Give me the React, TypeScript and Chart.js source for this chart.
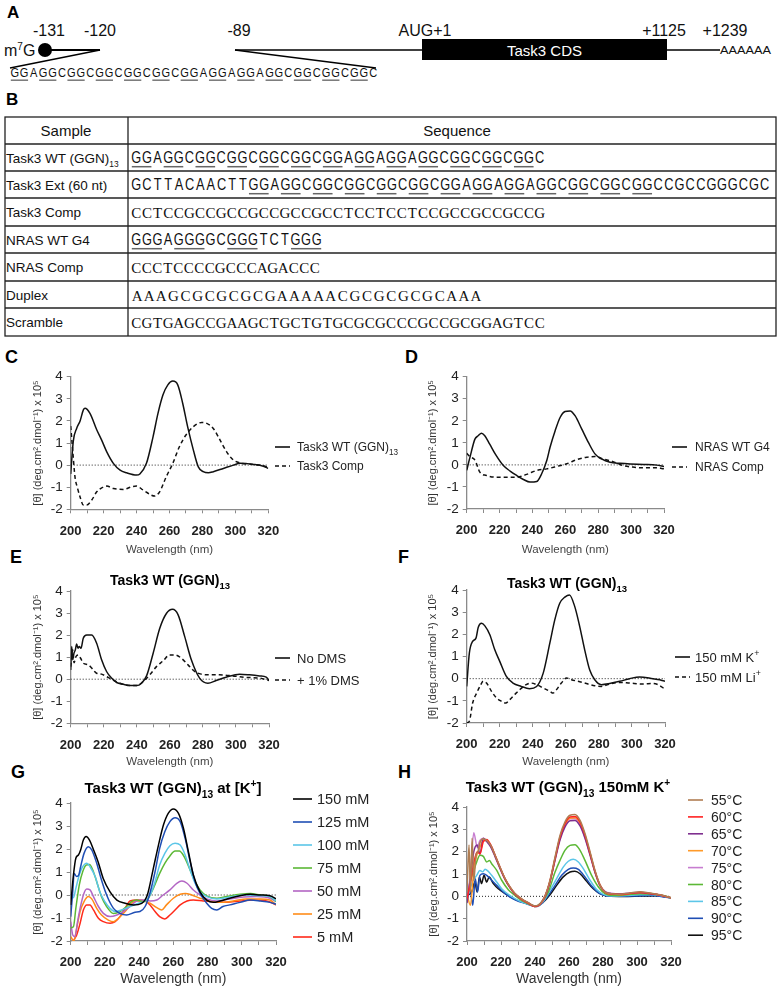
import React, { useEffect, useRef } from 'react';
import { Chart, registerables } from 'chart.js';

Chart.register(...registerables);

const SANS = '"Liberation Sans", Arial, Helvetica, sans-serif';
const SERIF = '"Liberation Serif", "Times New Roman", serif';
Chart.defaults.font.family = SANS;

// ---------------- Panel A / B text data ----------------
const MAP_LABELS = ['-131', '-120', '-89', 'AUG+1', '+1125', '+1239'];
const CDS_LABEL = 'Task3 CDS';
const POLY_A = 'AAAAAA';
const SEQ_WT = 'GGAGGCGGCGGCGGCGGCGGAGGAGGAGGCGGCGGCGGC';
const SEQ_EXT = 'GCTTACAACTT' + SEQ_WT + 'CGCCGGGCGC';
const SEQ_COMP = 'CCTCCGCCGCCGCCGCCGCCTCCTCCTCCGCCGCCGCCG';
const SEQ_NRAS = 'GGGAGGGGCGGGTCTGGG';
const SEQ_NRAS_COMP = 'CCCTCCCCGCCCAGACCC';
const SEQ_DUPLEX = 'AAAGCGCGCGCGAAAAACGCGCGCGCAAA';
const SEQ_SCRAMBLE = 'CGTGAGCCGAAGCTGCTGTGCGCGCCCGCCGCGGAGTCC';
const TABLE_HEAD = ['Sample', 'Sequence'];
const SAMPLE_NAMES = ['Task3 WT (GGN)_{13}', 'Task3 Ext (60 nt)', 'Task3 Comp', 'NRAS WT G4', 'NRAS Comp', 'Duplex', 'Scramble'];
const SAMPLE_SEQS = [SEQ_WT, SEQ_EXT, SEQ_COMP, SEQ_NRAS, SEQ_NRAS_COMP, SEQ_DUPLEX, SEQ_SCRAMBLE];
const SEQ_SERIF = [false, false, true, false, true, true, true];
const UL_WT: number[][] = Array.from({ length: 13 }, (_, i) => [3 * i, 3 * i + 2]);
const UL_EXT: number[][] = Array.from({ length: 13 }, (_, i) => [11 + 3 * i, 11 + 3 * i + 2]);
const UL_NRAS: number[][] = [[0, 3], [4, 7], [9, 12], [15, 18]];
const SAMPLE_UL: number[][][] = [UL_WT, UL_EXT, [], UL_NRAS, [], [], []];

// ---------------- CD spectra data ----------------
const C_WT_NM = [200, 201.6, 203.6, 205.7, 207.7, 208.7, 211.7, 215.8, 218.8, 221.9, 225.9, 230, 234, 240, 242, 246, 250, 253, 256, 259, 262, 265, 268, 271, 274.5, 277.5, 280.5, 283.6, 286.6, 292.7, 298.8, 302.8, 311, 317, 320];
const C_WT_VAL = [-0.4, 1.1, 1.66, 2.0, 2.5, 2.57, 2.34, 1.6, 1.13, 0.6, 0.08, -0.23, -0.35, -0.45, -0.4, 0.08, 1.28, 2.34, 3.17, 3.63, 3.8, 3.63, 2.8, 1.74, 0.68, -0.08, -0.3, -0.35, -0.3, -0.15, 0, 0.08, 0.03, -0.05, -0.15];
const C_COMP_NM = [200, 201.2, 202.6, 204, 205.7, 207.7, 209.7, 212.8, 215.8, 218.8, 221.9, 226, 232, 237, 240, 244, 249, 251, 254, 258, 262, 266, 270, 274.5, 279.6, 282.6, 286.6, 290.7, 294.7, 298.8, 302.8, 311, 317, 320];
const C_COMP_VAL = [1.77, 0.68, -0.53, -1.0, -1.44, -1.81, -1.81, -1.58, -1.21, -1.03, -0.95, -1.06, -1.1, -0.98, -0.95, -1.13, -1.36, -1.4, -1.21, -0.53, 0.08, 0.83, 1.36, 1.74, 1.93, 1.89, 1.66, 1.13, 0.6, 0.23, 0.1, 0.03, -0.03, -0.12];

const D_WT_NM = [200, 202, 205, 207, 209, 211, 214, 218, 222.3, 226.4, 230.4, 234.5, 238.5, 242.6, 245.6, 248.7, 250.7, 253.8, 256.8, 259.8, 262.9, 266, 270, 274, 278, 282, 287.2, 293.3, 299.4, 307.5, 315.6, 320];
const D_WT_VAL = [-0.25, 0.35, 1.17, 1.32, 1.44, 1.32, 0.94, 0.42, -0.03, -0.28, -0.48, -0.66, -0.78, -0.75, -0.4, 0.2, 0.8, 1.55, 2.15, 2.42, 2.45, 2.22, 1.62, 1.02, 0.5, 0.27, 0.12, 0.07, 0.04, 0.02, -0.01, -0.07];
const D_COMP_NM = [200, 202, 205, 208, 212, 218, 224, 230, 236.5, 242.6, 248.7, 254.8, 260.9, 267, 273, 278, 283, 289, 295, 301, 307.5, 315.6, 320];
const D_COMP_VAL = [0.53, 0.37, 0.22, -0.33, -0.48, -0.56, -0.56, -0.56, -0.43, -0.25, -0.18, -0.07, 0.05, 0.24, 0.35, 0.38, 0.27, 0.15, -0.03, -0.1, -0.13, -0.13, -0.18];

const E_NODMS_NM = [200, 200.6, 201.2, 202, 202.8, 203.6, 204.4, 205.2, 206.2, 207.6, 209.7, 212.7, 215.7, 218.7, 221.7, 224.7, 227.8, 231.8, 235.8, 239.8, 242.9, 245.9, 249.9, 253.9, 258, 261.6, 265, 269, 273, 278, 283, 288, 294, 302.2, 308.2, 314.3, 318.3, 320];
const E_NODMS_VAL = [0.42, 1.48, 0.88, 1.18, 1.33, 1.6, 1.4, 1.48, 1.4, 1.86, 2.0, 2.0, 1.63, 0.88, 0.35, 0.05, -0.15, -0.23, -0.29, -0.29, -0.18, 0.15, 1.18, 2.31, 2.99, 3.17, 2.92, 1.93, 0.88, 0.05, -0.18, -0.06, 0.09, 0.23, 0.2, 0.15, 0.09, -0.06];
const E_DMS_NM = [200, 201.2, 202, 203.2, 204.6, 206, 207.6, 210.7, 213.7, 215.7, 218.7, 221.7, 224.7, 228.8, 233.8, 239.8, 243.9, 247.9, 251.9, 255.9, 259.9, 263, 267, 271, 275, 279, 284, 290, 298, 306.2, 314.3, 320];
const E_DMS_VAL = [0.57, 1.33, 0.75, 1.03, 1.1, 0.95, 0.73, 0.65, 0.42, 0.27, 0.23, 0.12, 0, -0.15, -0.26, -0.29, -0.1, 0.2, 0.57, 0.83, 1.1, 1.1, 0.95, 0.65, 0.35, 0.23, 0.2, 0.2, 0.15, 0.08, 0.05, -0.06];

const F_K_NM = [200, 201.6, 203.6, 205.6, 207, 209, 211, 214, 217, 220, 224, 228, 233, 238, 242.3, 246.3, 250.3, 253.3, 256.3, 259.4, 262.2, 265.4, 268.4, 271.4, 274.4, 277.5, 281.5, 286.5, 292.6, 298.6, 304.6, 312.7, 316.8, 320];
const F_K_VAL = [-0.35, 1.15, 1.68, 1.83, 2.32, 2.5, 2.38, 1.98, 1.3, 0.78, 0.1, -0.2, -0.35, -0.45, -0.35, 0.25, 1.6, 2.65, 3.4, 3.68, 3.78, 3.25, 2.35, 1.3, 0.4, -0.05, -0.27, -0.22, -0.12, 0, 0.08, 0, -0.05, -0.12];
const F_LI_NM = [200, 201.6, 203.6, 206, 208, 210, 212, 215, 218, 221, 223.6, 226, 229, 232, 236, 239, 242.3, 246.3, 250.3, 252.3, 254.3, 257.3, 260.4, 263.4, 267.4, 272.4, 277.5, 281.5, 286.5, 292.6, 298.6, 306.7, 312.7, 315.7, 320];
const F_LI_VAL = [-2.0, -1.92, -1.1, -0.65, -0.35, -0.12, -0.2, -0.57, -0.87, -1.02, -1.1, -0.95, -0.72, -0.5, -0.27, -0.2, -0.27, -0.42, -0.57, -0.65, -0.5, -0.2, 0.03, -0.05, -0.12, -0.22, -0.32, -0.35, -0.24, -0.17, -0.2, -0.24, -0.22, -0.27, -0.47];

const G_LABELS = ['150 mM', '125 mM', '100 mM', '75 mM', '50 mM', '25 mM', '5 mM'];
const G_COLORS = ['#000000', '#1f4eb4', '#5cc6e8', '#5cb836', '#b366c4', '#ff8c1a', '#ff2a1a'];
const G150_NM = [200, 201.6, 203, 204.5, 205.8, 207.4, 209, 211, 213, 216, 219, 223, 227, 231.8, 236.6, 241.5, 244.8, 248.3, 251.3, 254.2, 257, 260, 263, 265.9, 268.8, 271.7, 275.6, 279.5, 283.4, 287.3, 293, 299, 305, 310.8, 316.5, 320];
const G150_VAL = [-0.43, 0.87, 1.6, 1.74, 1.96, 2.39, 2.54, 2.39, 2.03, 1.45, 0.72, 0.14, -0.22, -0.36, -0.43, -0.36, 0, 1.16, 2.17, 3.04, 3.55, 3.74, 3.55, 2.9, 1.88, 0.87, 0.14, -0.22, -0.32, -0.26, -0.14, -0.03, 0.03, 0, -0.03, -0.17];
const G125_NM = [200, 201.2, 202, 203.5, 204.7, 205.8, 207.8, 210.3, 212.3, 215.2, 218, 221, 225, 228.8, 232.7, 237.6, 240.5, 243.5, 246, 249.3, 252, 255, 258, 261, 264, 266.9, 269.8, 272.7, 275.6, 279.5, 282.4, 285.4, 289, 293, 299, 305, 310.8, 316.5, 320];
const G125_VAL = [-0.94, 0.14, 0.94, 0.8, 0.87, 1.23, 1.81, 2.1, 1.96, 1.38, 0.65, 0, -0.58, -0.8, -0.87, -0.75, -0.72, -0.5, 0, 1.01, 2.03, 2.75, 3.19, 3.36, 3.19, 2.46, 1.45, 0.58, 0.07, -0.36, -0.58, -0.65, -0.5, -0.43, -0.32, -0.22, -0.26, -0.32, -0.4];
const G100_NM = [200, 201.6, 203, 205, 207, 209.4, 211.3, 214.3, 217, 220, 223, 226, 229.8, 234.7, 239.6, 243.5, 246.4, 249.3, 252, 255, 258, 261, 264, 266.9, 269.8, 272.7, 275.6, 279.5, 285.4, 291, 297, 302.8, 310.8, 316.5, 320];
const G100_VAL = [0, -0.12, 0.29, 0.87, 1.23, 1.38, 1.23, 0.8, 0.14, -0.29, -0.58, -0.72, -0.65, -0.5, -0.36, -0.26, 0, 0.58, 1.3, 1.81, 2.14, 2.25, 2.17, 1.74, 1.09, 0.51, 0.14, -0.07, -0.17, -0.12, -0.03, 0, -0.03, -0.07, -0.26];
const G75_NM = [200, 201.6, 203, 205, 207, 209, 211, 212.9, 215.2, 218, 221, 225, 228.8, 232.7, 235.6, 238.6, 242.5, 245.4, 248.3, 252, 255, 258, 261, 263.5, 266.3, 269.8, 272.7, 275.6, 279.5, 285.4, 291, 299, 305, 310.8, 316.5, 320];
const G75_VAL = [-1.42, -1.38, -0.58, 0.43, 1.01, 1.3, 1.33, 1.09, 0.58, -0.07, -0.5, -0.8, -0.72, -0.5, -0.29, -0.22, -0.29, -0.14, 0.29, 0.94, 1.38, 1.7, 1.91, 1.91, 1.67, 1.09, 0.58, 0.22, -0.04, -0.14, -0.07, 0.03, 0.06, 0, -0.07, -0.29];
const G50_NM = [200, 201.2, 202.5, 204, 205.5, 207.4, 209.4, 211.3, 213.3, 216.2, 219.1, 223, 227, 230.8, 234.7, 238.6, 242.5, 246.4, 250.3, 254, 258, 262, 265, 268, 271.7, 275.6, 279.5, 285.4, 293, 301, 308.8, 316.5, 320];
const G50_VAL = [-1.16, -1.74, -1.81, -1.16, -0.58, 0, 0.26, 0.22, -0.07, -0.5, -0.8, -0.94, -0.87, -0.72, -0.5, -0.26, -0.22, -0.26, -0.22, 0, 0.22, 0.51, 0.61, 0.51, 0.22, 0, -0.17, -0.26, -0.17, -0.09, -0.07, -0.14, -0.29];
const G25_NM = [200, 201.9, 203.5, 205.5, 207.8, 210.3, 212.3, 215.2, 218, 222, 225, 227.9, 231.8, 235.6, 238.6, 242.5, 246.4, 250.3, 253.2, 256, 260, 264, 267, 270.8, 275.6, 281.5, 287.3, 295, 302.8, 310.8, 316.5, 320];
const G25_VAL = [-1.81, -2.0, -1.45, -0.72, -0.29, -0.07, -0.17, -0.58, -0.87, -1.09, -1.16, -1.01, -0.72, -0.36, -0.26, -0.26, -0.36, -0.55, -0.65, -0.43, -0.14, 0.03, 0.07, 0, -0.14, -0.26, -0.32, -0.26, -0.17, -0.17, -0.22, -0.43];
const G5_NM = [200.5, 201.6, 203.5, 205.5, 207.4, 209.4, 211.3, 213.3, 216.2, 219.1, 223, 226, 228.8, 231.8, 234.7, 238.6, 243.5, 246.4, 249.3, 252, 255, 258, 261, 264, 268, 271.7, 277.5, 283.4, 291, 299, 306.8, 314.6, 320];
const G5_VAL = [-2.3, -2.0, -1.74, -1.23, -0.65, -0.43, -0.43, -0.65, -1.01, -1.16, -1.23, -1.16, -0.94, -0.58, -0.26, -0.22, -0.26, -0.43, -0.72, -0.94, -1.04, -0.87, -0.65, -0.43, -0.26, -0.22, -0.26, -0.29, -0.32, -0.26, -0.22, -0.26, -0.43];

const H_LABELS = ['55°C', '60°C', '65°C', '70°C', '75°C', '80°C', '85°C', '90°C', '95°C'];
const H_COLORS = ['#b07d52', '#ff2222', '#7f2f8f', '#ff9a2a', '#c77dd0', '#5cb836', '#5cc6e8', '#1f4eb4', '#111111'];
const H55_NM = [200, 201.2, 202, 203, 204, 205.3, 206.5, 207.6, 209.6, 211.6, 214, 216.5, 219.4, 222.4, 225.3, 228, 232, 236, 240, 243, 246, 248.8, 251.8, 254.7, 257.6, 260.6, 263.5, 266.5, 269.4, 272.4, 275.3, 278.2, 281.2, 285, 290, 295.9, 301.8, 307.6, 313.5, 320];
const H55_VAL = [0.2, 2.3, 0.2, 2.6, 0.7, 1.84, 2.0, 2.4, 2.58, 2.5, 2.28, 1.84, 1.31, 0.79, 0.42, 0.15, -0.1, -0.28, -0.43, -0.33, 0.04, 0.72, 1.76, 2.73, 3.33, 3.63, 3.66, 3.4, 2.81, 1.99, 1.16, 0.52, 0.19, 0.12, 0.09, 0.15, 0.2, 0.15, 0.07, -0.07];
const H_HI_NM = [200, 202, 204, 206, 207.6, 209.6, 211.6, 214, 216.5, 219.4, 222.4, 225.3, 228, 232, 236, 240, 243, 246, 248.8, 251.8, 254.7, 257.6, 260.6, 263.5, 266.5, 269.4, 272.4, 275.3, 278.2, 281.2, 285, 290, 295.9, 301.8, 307.6, 313.5, 320];
const H60_VAL = [-0.1, 0.6, 1.5, 2.0, 1.9, 2.45, 2.55, 2.3, 1.85, 1.3, 0.78, 0.4, 0.13, -0.12, -0.3, -0.45, -0.35, 0.02, 0.68, 1.7, 2.65, 3.25, 3.55, 3.57, 3.32, 2.74, 1.93, 1.12, 0.5, 0.18, 0.1, 0.08, 0.13, 0.17, 0.13, 0.06, -0.07];
const H65_VAL = [-0.3, 0.8, 2.0, 2.3, 1.9, 2.6, 2.45, 2.2, 1.78, 1.25, 0.75, 0.38, 0.12, -0.12, -0.3, -0.45, -0.35, 0.0, 0.64, 1.62, 2.52, 3.1, 3.38, 3.4, 3.15, 2.6, 1.84, 1.07, 0.48, 0.2, 0.12, 0.1, 0.14, 0.17, 0.12, 0.06, -0.07];
const H70_VAL = [0.1, -0.4, 1.2, 1.9, 2.2, 2.5, 2.5, 2.25, 1.82, 1.28, 0.77, 0.4, 0.13, -0.12, -0.3, -0.45, -0.35, 0.02, 0.66, 1.66, 2.6, 3.2, 3.5, 3.52, 3.28, 2.7, 1.9, 1.1, 0.5, 0.19, 0.1, 0.08, 0.13, 0.17, 0.13, 0.06, -0.07];
const H75_VAL = [-0.2, 1.0, 2.85, 2.2, 2.5, 2.6, 2.5, 2.28, 1.83, 1.3, 0.78, 0.41, 0.14, -0.11, -0.29, -0.45, -0.34, 0.03, 0.67, 1.68, 2.6, 3.2, 3.47, 3.47, 3.22, 2.65, 1.88, 1.1, 0.52, 0.22, 0.14, 0.11, 0.15, 0.18, 0.13, 0.06, -0.07];
const H80_NM = [200, 201.8, 203.7, 205.7, 207.6, 209.6, 211.6, 213.2, 214.5, 217.5, 220.4, 224.3, 228.2, 232, 236, 240, 243.9, 247.8, 251.8, 254.7, 257.6, 260.6, 263.5, 266.5, 269.4, 273.3, 277.3, 281.2, 286, 294, 301.8, 309.6, 315.5, 320];
const H80_VAL = [0.05, 0.64, 1.09, 1.54, 1.84, 1.79, 1.54, 1.6, 1.46, 1.16, 0.72, 0.3, 0.04, -0.18, -0.33, -0.45, -0.25, 0.19, 1.09, 1.61, 2.06, 2.28, 2.31, 2.06, 1.61, 0.94, 0.42, 0.12, 0.04, 0.07, 0.12, 0.09, 0.04, -0.07];
const H85_NM = [200, 201.8, 203.7, 205.7, 207.6, 209.2, 210.6, 212.5, 214.5, 217.5, 220.4, 224.3, 228.2, 233, 238, 241, 245, 248.8, 252.7, 256.6, 259.6, 262.5, 265.5, 268.4, 272.4, 276.3, 280.2, 286, 294, 301.8, 309.6, 320];
const H85_VAL = [-0.1, 0.34, 0.72, 0.94, 1.16, 1.1, 1.21, 1.12, 0.94, 0.64, 0.34, 0.09, -0.1, -0.28, -0.4, -0.45, -0.22, 0.27, 0.79, 1.31, 1.57, 1.66, 1.54, 1.24, 0.72, 0.3, 0.09, 0.01, 0.04, 0.07, 0.07, -0.07];
const H90_NM = [200, 201.8, 203.4, 204.8, 206.2, 207.6, 209.6, 211.6, 214.5, 217.5, 221.4, 225.3, 230.2, 235, 240, 243.9, 247.8, 251.8, 255.7, 259.6, 262.5, 265.5, 269.4, 273.3, 277.3, 281.2, 288, 297.8, 307.6, 320];
const H90_VAL = [-0.25, 0.34, -0.4, 0.8, 0.2, 0.94, 1.01, 0.94, 0.72, 0.49, 0.19, -0.03, -0.22, -0.33, -0.45, -0.33, 0.04, 0.49, 0.94, 1.21, 1.27, 1.21, 0.87, 0.46, 0.16, 0.04, 0, 0.01, 0.04, -0.07];
const H95_NM = [200, 202.7, 204.6, 206, 207.3, 208.6, 210, 211.6, 213, 215.5, 218.4, 222.4, 227.3, 232, 237, 241, 245, 248.8, 252.7, 256.6, 260.6, 263.5, 266.5, 270.4, 274.3, 278.2, 283, 292, 301.8, 311.6, 320];
const H95_VAL = [0.04, 0.19, 0.64, 0.19, 0.87, 0.57, 0.94, 0.64, 0.87, 0.57, 0.34, 0.12, -0.1, -0.25, -0.37, -0.45, -0.25, 0.07, 0.49, 0.87, 1.09, 1.12, 1.01, 0.67, 0.34, 0.12, 0.01, -0.01, 0.01, 0.03, -0.07];

const Y_TITLE = '[θ] (deg.cm².dmol⁻¹) x 10⁵';
const X_TITLE = 'Wavelength (nm)';

// ---------------- helpers ----------------
type Seg = { t: string; sub?: boolean; sup?: boolean };
function parseRich(s: string): Seg[] {
  const out: Seg[] = [];
  const re = /([_^])\{([^}]*)\}/g;
  let last = 0;
  let m: RegExpExecArray | null;
  while ((m = re.exec(s))) {
    if (m.index > last) out.push({ t: s.slice(last, m.index) });
    out.push({ t: m[2], sub: m[1] === '_', sup: m[1] === '^' });
    last = re.lastIndex;
  }
  if (last < s.length) out.push({ t: s.slice(last) });
  return out;
}

function drawRich(ctx: CanvasRenderingContext2D, text: string, x: number, yc: number, size: number, weight: string, align: string, color: string) {
  const segs = parseRich(text);
  const fontFor = (sg: Seg) => `${weight} ${sg.sub || sg.sup ? size * 0.68 : size}px ${SANS}`;
  let total = 0;
  for (const sg of segs) { ctx.font = fontFor(sg); total += ctx.measureText(sg.t).width; }
  let cx = align === 'center' ? x - total / 2 : x;
  const base = yc + size * 0.36;
  ctx.textBaseline = 'alphabetic';
  ctx.textAlign = 'left';
  ctx.fillStyle = color;
  for (const sg of segs) {
    ctx.font = fontFor(sg);
    const dy = sg.sub ? size * 0.3 : sg.sup ? -size * 0.42 : 0;
    ctx.fillText(sg.t, cx, base + dy);
    cx += ctx.measureText(sg.t).width;
  }
}

type Box = { left: number; top: number; width: number; height: number };
type Plot = { l: number; t: number; r: number; b: number };
type Series = { label: string; nm: number[]; val: number[]; color: string; dash?: number[] };
interface PanelCfg {
  box: Box; plot: Plot; yTitleX: number; xTitleSize: number; xTitleColor: string;
  title?: { text: string; x: number; y: number; size: number };
  legend: { x0: number; x1: number; tx: number; y0: number; dy: number; size: number };
  series: Series[];
}

function makeDecor(cfg: PanelCfg) {
  return {
    id: 'decor',
    beforeDatasetsDraw(chart: any) {
      const { ctx, chartArea: a, scales } = chart;
      const y0 = scales.y.getPixelForValue(0);
      ctx.save();
      ctx.strokeStyle = '#222';
      ctx.lineWidth = 1;
      ctx.setLineDash([1, 2]);
      ctx.beginPath();
      ctx.moveTo(a.left, y0);
      ctx.lineTo(a.right, y0);
      ctx.stroke();
      ctx.restore();
    },
    afterDraw(chart: any) {
      const ctx: CanvasRenderingContext2D = chart.ctx;
      const ox = cfg.box.left;
      const oy = cfg.box.top;
      ctx.save();
      if (cfg.title) drawRich(ctx, cfg.title.text, cfg.title.x - ox, cfg.title.y - oy, cfg.title.size, 'bold', 'center', '#000');
      const L = cfg.legend;
      chart.data.datasets.forEach((ds: any, i: number) => {
        const y = L.y0 + i * L.dy - oy;
        ctx.save();
        ctx.strokeStyle = ds.borderColor;
        ctx.lineWidth = 1.6;
        ctx.setLineDash(ds.borderDash || []);
        ctx.beginPath();
        ctx.moveTo(L.x0 - ox, y);
        ctx.lineTo(L.x1 - ox, y);
        ctx.stroke();
        ctx.restore();
        drawRich(ctx, ds.label, L.tx - ox, y, L.size, 'normal', 'left', '#222');
      });
      ctx.restore();
    },
  };
}

function CDChart({ cfg }: { cfg: PanelCfg }) {
  const ref = useRef<HTMLCanvasElement>(null);
  useEffect(() => {
    const { box, plot } = cfg;
    const axisColor = '#8a8a8a';
    const chart = new Chart(ref.current as HTMLCanvasElement, {
      type: 'line',
      data: {
        datasets: cfg.series.map((s) => ({
          label: s.label,
          data: s.nm.map((x, i) => ({ x, y: s.val[i] })),
          borderColor: s.color,
          borderDash: s.dash || [],
          borderWidth: 1.5,
          pointRadius: 0,
          fill: false,
          cubicInterpolationMode: 'monotone',
        })) as any,
      },
      options: {
        responsive: false,
        animation: false,
        layout: { padding: { left: 0, top: plot.t - box.top, right: box.left + box.width - plot.r, bottom: 0 } },
        plugins: { legend: { display: false }, tooltip: { enabled: false } },
        scales: {
          x: {
            type: 'linear', min: 200, max: 320,
            afterFit: (s: any) => { s.height = box.top + box.height - plot.b; },
            ticks: {
              stepSize: 10, autoSkip: false, maxRotation: 0, padding: 10, color: '#222',
              font: { size: 13, weight: 'bold' },
              callback: (v: any) => (Number(v) % 20 === 0 ? String(v) : ''),
            },
            grid: { display: true, drawOnChartArea: false, drawTicks: true, tickLength: 4, tickColor: axisColor },
            border: { display: true, color: axisColor, width: 1.3 },
            title: { display: true, text: X_TITLE, color: cfg.xTitleColor, font: { size: cfg.xTitleSize }, padding: 0 },
          },
          y: {
            type: 'linear', min: -2, max: 4,
            afterFit: (s: any) => { s.width = plot.l - box.left; },
            ticks: { stepSize: 1, padding: 4, color: '#222', font: { size: 13.5 } },
            grid: { display: true, drawOnChartArea: false, drawTicks: true, tickLength: 4, tickColor: axisColor },
            border: { display: true, color: axisColor, width: 1.3 },
            title: { display: true, text: Y_TITLE, color: '#333', font: { size: 11 }, padding: { top: cfg.yTitleX - box.left - 6.6, bottom: 0 } },
          },
        },
      } as any,
      plugins: [makeDecor(cfg)],
    });
    return () => chart.destroy();
  }, []);
  const { box } = cfg;
  return (
    <canvas ref={ref} width={box.width} height={box.height}
      style={{ position: 'absolute', left: box.left, top: box.top, width: box.width, height: box.height }} />
  );
}

// ---------------- panel configs ----------------
const PANELS: PanelCfg[] = [
  {
    box: { left: 0, top: 360, width: 400, height: 197 }, plot: { l: 70.7, t: 376.7, r: 268.3, b: 509.3 },
    yTitleX: 38, xTitleSize: 11.5, xTitleColor: '#444',
    legend: { x0: 275, x1: 290, tx: 297, y0: 447, dy: 19, size: 12 },
    series: [
      { label: 'Task3 WT (GGN)_{13}', nm: C_WT_NM, val: C_WT_VAL, color: '#111' },
      { label: 'Task3 Comp', nm: C_COMP_NM, val: C_COMP_VAL, color: '#111', dash: [4, 3] },
    ],
  },
  {
    box: { left: 390, top: 360, width: 391, height: 197 }, plot: { l: 466.7, t: 376.7, r: 664, b: 509 },
    yTitleX: 433, xTitleSize: 11.5, xTitleColor: '#444',
    legend: { x0: 672, x1: 687, tx: 695, y0: 447, dy: 20, size: 12 },
    series: [
      { label: 'NRAS WT G4', nm: D_WT_NM, val: D_WT_VAL, color: '#111' },
      { label: 'NRAS Comp', nm: D_COMP_NM, val: D_COMP_VAL, color: '#111', dash: [4, 3] },
    ],
  },
  {
    box: { left: 0, top: 568, width: 400, height: 201 }, plot: { l: 70.7, t: 591, r: 269, b: 723.3 },
    yTitleX: 38, xTitleSize: 11.5, xTitleColor: '#444',
    title: { text: 'Task3 WT (GGN)_{13}', x: 170, y: 580, size: 14 },
    legend: { x0: 275, x1: 290, tx: 297, y0: 658, dy: 22, size: 13 },
    series: [
      { label: 'No DMS', nm: E_NODMS_NM, val: E_NODMS_VAL, color: '#111' },
      { label: '+ 1% DMS', nm: E_DMS_NM, val: E_DMS_VAL, color: '#111', dash: [4, 3] },
    ],
  },
  {
    box: { left: 390, top: 568, width: 391, height: 201 }, plot: { l: 466.7, t: 590, r: 665, b: 723 },
    yTitleX: 433, xTitleSize: 11.5, xTitleColor: '#444',
    title: { text: 'Task3 WT (GGN)_{13}', x: 567, y: 583, size: 14 },
    legend: { x0: 675, x1: 690, tx: 695, y0: 657, dy: 20, size: 13 },
    series: [
      { label: '150 mM K^{+}', nm: F_K_NM, val: F_K_VAL, color: '#111' },
      { label: '150 mM Li^{+}', nm: F_LI_NM, val: F_LI_VAL, color: '#111', dash: [4, 3] },
    ],
  },
  {
    box: { left: 0, top: 778, width: 400, height: 210 }, plot: { l: 70.7, t: 803, r: 276, b: 941 },
    yTitleX: 38, xTitleSize: 14, xTitleColor: '#333',
    title: { text: 'Task3 WT (GGN)_{13} at [K^{+}]', x: 173, y: 788, size: 15 },
    legend: { x0: 293, x1: 312, tx: 317, y0: 799, dy: 23, size: 14.5 },
    series: [
      { label: G_LABELS[0], nm: G150_NM, val: G150_VAL, color: G_COLORS[0] },
      { label: G_LABELS[1], nm: G125_NM, val: G125_VAL, color: G_COLORS[1] },
      { label: G_LABELS[2], nm: G100_NM, val: G100_VAL, color: G_COLORS[2] },
      { label: G_LABELS[3], nm: G75_NM, val: G75_VAL, color: G_COLORS[3] },
      { label: G_LABELS[4], nm: G50_NM, val: G50_VAL, color: G_COLORS[4] },
      { label: G_LABELS[5], nm: G25_NM, val: G25_VAL, color: G_COLORS[5] },
      { label: G_LABELS[6], nm: G5_NM, val: G5_VAL, color: G_COLORS[6] },
    ],
  },
  {
    box: { left: 390, top: 778, width: 391, height: 210 }, plot: { l: 467, t: 807, r: 671, b: 941 },
    yTitleX: 434, xTitleSize: 14, xTitleColor: '#333',
    title: { text: 'Task3 WT (GGN)_{13} 150mM K^{+}', x: 568, y: 787, size: 15 },
    legend: { x0: 688, x1: 703, tx: 711, y0: 800, dy: 16.9, size: 14 },
    series: [
      { label: H_LABELS[0], nm: H55_NM, val: H55_VAL, color: H_COLORS[0] },
      { label: H_LABELS[1], nm: H_HI_NM, val: H60_VAL, color: H_COLORS[1] },
      { label: H_LABELS[2], nm: H_HI_NM, val: H65_VAL, color: H_COLORS[2] },
      { label: H_LABELS[3], nm: H_HI_NM, val: H70_VAL, color: H_COLORS[3] },
      { label: H_LABELS[4], nm: H_HI_NM, val: H75_VAL, color: H_COLORS[4] },
      { label: H_LABELS[5], nm: H80_NM, val: H80_VAL, color: H_COLORS[5] },
      { label: H_LABELS[6], nm: H85_NM, val: H85_VAL, color: H_COLORS[6] },
      { label: H_LABELS[7], nm: H90_NM, val: H90_VAL, color: H_COLORS[7] },
      { label: H_LABELS[8], nm: H95_NM, val: H95_VAL, color: H_COLORS[8] },
    ],
  },
];

// ---------------- SVG parts ----------------
function Seq({ x0, x1, y, seq, size, family, sx, ul, ulColor }:
  { x0: number; x1: number; y: number; seq: string; size: number; family: string; sx: number; ul: number[][]; ulColor: string }) {
  const n = seq.length;
  const w = (x1 - x0) / n;
  const xs = Array.from(seq, (_, i) => (((i + 0.5) * w) / sx).toFixed(2)).join(' ');
  return (
    <g>
      <g transform={`translate(${x0} 0) scale(${sx} 1)`}>
        <text x={xs} y={y} fontSize={size} fontFamily={family} textAnchor="middle" fill="#111">{seq}</text>
      </g>
      {ul.map(([a, b], k) => (
        <line key={k} x1={x0 + a * w + 0.8} x2={x0 + b * w - 0.8} y1={y + 3.2} y2={y + 3.2} stroke={ulColor} strokeWidth={1.5} />
      ))}
    </g>
  );
}

function RichSvg({ x, y, text, size }: { x: number; y: number; text: string; size: number }) {
  const segs = parseRich(text);
  return (
    <text x={x} y={y} fontSize={size} fontFamily={SANS} fill="#111">
      {segs.map((sg, i) => {
        const prev = i > 0 ? segs[i - 1] : null;
        const prevOff = prev ? (prev.sub ? size * 0.3 : prev.sup ? -size * 0.4 : 0) : 0;
        const off = sg.sub ? size * 0.3 : sg.sup ? -size * 0.4 : 0;
        return (
          <tspan key={i} fontSize={sg.sub || sg.sup ? size * 0.62 : size} dy={off - prevOff}>{sg.t}</tspan>
        );
      })}
    </text>
  );
}

const ROW_LINES = [117, 144, 171, 198, 226, 253, 281, 308, 336];
const SEQ_END = [545, 770, 545, 322, 320, 482, 545];

function Schematic() {
  const mapX = [49, 100, 239, 425, 664, 725];
  return (
    <svg width={781} height={992} style={{ position: 'absolute', left: 0, top: 0, pointerEvents: 'none' }}>
      {/* Panel A */}
      <text x={7} y={18} fontSize={17} fontWeight="bold" fontFamily={SANS}>A</text>
      {MAP_LABELS.map((t, i) => (
        <text key={t} x={mapX[i]} y={36} fontSize={16} fontFamily={SANS} textAnchor="middle" fill="#111">{t}</text>
      ))}
      <text x={4} y={56} fontSize={16} fontFamily={SANS} fill="#111">m<tspan fontSize={10} dy={-6}>7</tspan><tspan dy={6}>G</tspan></text>
      <circle cx={45} cy={50} r={7} fill="#000" />
      <line x1={45} y1={50} x2={100} y2={50} stroke="#000" strokeWidth={2} />
      <line x1={100} y1={50} x2={10} y2={68} stroke="#000" strokeWidth={1.4} />
      <line x1={235} y1={50} x2={376} y2={68} stroke="#000" strokeWidth={1.4} />
      <line x1={235} y1={50} x2={422} y2={50} stroke="#000" strokeWidth={1.5} />
      <rect x={422} y={39} width={245} height={21} fill="#000" />
      <text x={544.5} y={55.5} fontSize={15} fontFamily={SANS} fill="#fff" textAnchor="middle">{CDS_LABEL}</text>
      <line x1={667} y1={50} x2={720} y2={50} stroke="#000" strokeWidth={1.5} />
      <text x={720} y={54} fontSize={11} fontFamily={SANS} fill="#111" textLength={51} lengthAdjust="spacingAndGlyphs">{POLY_A}</text>
      <Seq x0={10} x1={378} y={77} seq={SEQ_WT} size={13.5} family={SANS} sx={0.82} ul={UL_WT} ulColor="#777" />

      {/* Panel B */}
      <text x={6} y={105} fontSize={17} fontWeight="bold" fontFamily={SANS}>B</text>
      <rect x={5} y={117} width={771} height={219} fill="none" stroke="#222" strokeWidth={1.3} />
      {ROW_LINES.slice(1, -1).map((y) => (
        <line key={y} x1={5} x2={776} y1={y} y2={y} stroke="#222" strokeWidth={1.3} />
      ))}
      <line x1={128} x2={128} y1={117} y2={336} stroke="#222" strokeWidth={1.3} />
      <text x={66} y={136} fontSize={15} fontFamily={SANS} textAnchor="middle" fill="#111">{TABLE_HEAD[0]}</text>
      <text x={457} y={136} fontSize={15} fontFamily={SANS} textAnchor="middle" fill="#111">{TABLE_HEAD[1]}</text>
      {SAMPLE_NAMES.map((nm, i) => {
        const top = ROW_LINES[i + 1];
        return (
          <g key={nm}>
            <RichSvg x={6} y={top + 19} text={nm} size={13.5} />
            <Seq x0={131} x1={SEQ_END[i]} y={top + 19.5} seq={SAMPLE_SEQS[i]}
              size={SEQ_SERIF[i] ? 15 : 16} family={SEQ_SERIF[i] ? SERIF : SANS} sx={SEQ_SERIF[i] ? 1 : 0.8}
              ul={SAMPLE_UL[i]} ulColor="#666" />
          </g>
        );
      })}

      {/* Panel letters */}
      <text x={5} y={363} fontSize={18} fontWeight="bold" fontFamily={SANS}>C</text>
      <text x={405} y={363} fontSize={18} fontWeight="bold" fontFamily={SANS}>D</text>
      <text x={10} y={563} fontSize={18} fontWeight="bold" fontFamily={SANS}>E</text>
      <text x={398} y={563} fontSize={18} fontWeight="bold" fontFamily={SANS}>F</text>
      <text x={11} y={778} fontSize={18} fontWeight="bold" fontFamily={SANS}>G</text>
      <text x={398} y={778} fontSize={18} fontWeight="bold" fontFamily={SANS}>H</text>
    </svg>
  );
}

export default function App() {
  return (
    <div style={{ position: 'absolute', left: 0, top: 0, width: 781, height: 992, background: '#fff', overflow: 'hidden', fontFamily: SANS }}>
      <Schematic />
      {PANELS.map((p, i) => <CDChart key={i} cfg={p} />)}
    </div>
  );
}
